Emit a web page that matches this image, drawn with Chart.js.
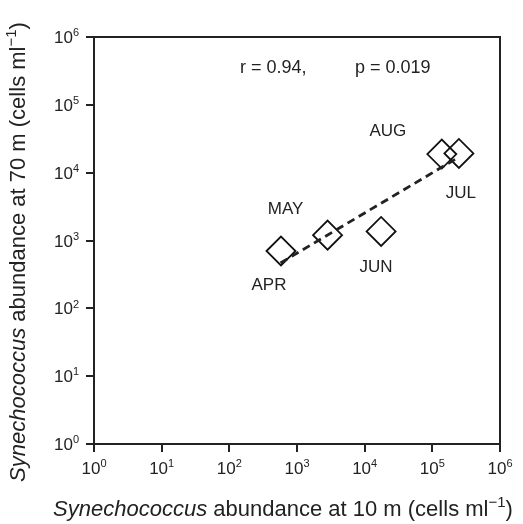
<!DOCTYPE html>
<html>
<head>
<meta charset="utf-8">
<script src="https://cdn.jsdelivr.net/npm/chart.js@4"></script>
<style>
  html, body { margin: 0; padding: 0; background: #fff; }
  canvas { display: block; }
</style>
</head>
<body>
<canvas id="chart" width="523" height="524"></canvas>
<script>
const months = ['APR', 'MAY', 'JUN', 'AUG', 'JUL'];
const cells10m = [580, 2830, 17500, 138000, 247000];
const cells70m = [700, 1200, 1360, 18800, 19200];
const fitX = [570, 235000];
const fitY = [466, 16500];
const tickVals = [1, 10, 100, 1e3, 1e4, 1e5, 1e6];
const statsText = ['r = 0.94,', 'p = 0.019'];

// pixel offsets of month labels from their diamonds
const labelOffsets = [[-12, 34], [-42, -26], [-5, 36], [-54, -23], [2, 40]];

const FONT = '"Liberation Sans", Arial, Helvetica, sans-serif';
const ctx = document.getElementById('chart').getContext('2d');

function drawRuns(c, runs, x, y, size) {
  // runs: [{t, it, sup}] drawn left to right from x at baseline y
  let cx = x;
  runs.forEach(r => {
    const fs = r.sup ? Math.round(size * 0.66) : size;
    c.font = (r.it ? 'italic ' : '') + fs + 'px ' + FONT;
    c.fillText(r.t, cx, r.sup ? y - size * 0.4 : y);
    cx += c.measureText(r.t).width;
  });
  return cx - x;
}

function runsWidth(c, runs, size) {
  let w = 0;
  runs.forEach(r => {
    const fs = r.sup ? Math.round(size * 0.66) : size;
    c.font = (r.it ? 'italic ' : '') + fs + 'px ' + FONT;
    w += c.measureText(r.t).width;
  });
  return w;
}

const decorations = {
  id: 'decorations',
  afterDraw(chart) {
    const c = chart.ctx;
    const a = chart.chartArea;
    const xs = chart.scales.x;
    const ys = chart.scales.y;
    c.save();
    c.fillStyle = '#222';
    c.strokeStyle = '#222';
    c.textAlign = 'left';
    c.textBaseline = 'alphabetic';

    // frame
    c.lineWidth = 2;
    c.strokeRect(a.left, a.top, a.right - a.left, a.bottom - a.top);

    // tick labels 10^n
    tickVals.forEach(v => {
      const exp = String(Math.round(Math.log10(v)));
      const runs = [{ t: '10' }, { t: exp, sup: true }];
      const w = runsWidth(c, runs, 17);
      const px = xs.getPixelForValue(v);
      drawRuns(c, runs, px - w / 2, a.bottom + 30, 17);
      const py = ys.getPixelForValue(v);
      drawRuns(c, runs, a.left - 15 - w, py + 6, 17);
    });

    // month labels
    c.font = '17px ' + FONT;
    c.textAlign = 'center';
    c.textBaseline = 'middle';
    months.forEach((m, i) => {
      const px = xs.getPixelForValue(cells10m[i]) + labelOffsets[i][0];
      const py = ys.getPixelForValue(cells70m[i]) + labelOffsets[i][1];
      c.fillText(m, px, py);
    });

    // stats
    c.textAlign = 'left';
    c.textBaseline = 'alphabetic';
    c.font = '18px ' + FONT;
    c.fillText(statsText[0], 240, 73);
    c.fillText(statsText[1], 355, 73);

    // axis titles
    const xRuns = [
      { t: 'Synechococcus', it: true },
      { t: ' abundance at 10 m (cells ml' },
      { t: '\u22121', sup: true },
      { t: ')' }
    ];
    const yRuns = [
      { t: 'Synechococcus', it: true },
      { t: ' abundance at 70 m (cells ml' },
      { t: '\u22121', sup: true },
      { t: ')' }
    ];
    const xw = runsWidth(c, xRuns, 22);
    drawRuns(c, xRuns, 283 - xw / 2, 516, 22);

    const yw = runsWidth(c, yRuns, 22);
    c.translate(25, 252);
    c.rotate(-Math.PI / 2);
    drawRuns(c, yRuns, -yw / 2, 0, 22);
    c.restore();
  }
};

function logAxis() {
  return {
    type: 'logarithmic',
    min: 1,
    max: 1e6,
    afterBuildTicks: s => { s.ticks = tickVals.map(v => ({ value: v })); },
    ticks: { display: false },
    grid: {
      display: true,
      drawOnChartArea: false,
      drawTicks: true,
      tickLength: 8,
      color: '#222',
      lineWidth: 2
    },
    border: { display: true, color: '#222', width: 2 }
  };
}

new Chart(ctx, {
  type: 'scatter',
  data: {
    datasets: [
      {
        label: 'fit',
        type: 'line',
        data: fitX.map((x, i) => ({ x, y: fitY[i] })),
        borderColor: '#222',
        borderWidth: 2.8,
        borderDash: [8, 5],
        pointRadius: 0,
        fill: false
      },
      {
        label: 'months',
        data: cells10m.map((x, i) => ({ x, y: cells70m[i] })),
        pointStyle: 'rectRot',
        pointRadius: 14.5,
        pointBorderWidth: 1.8,
        pointBorderColor: '#111',
        pointBackgroundColor: 'rgba(0,0,0,0)'
      }
    ]
  },
  options: {
    responsive: false,
    animation: false,
    devicePixelRatio: 1,
    layout: { padding: { left: 86, right: 23, top: 37, bottom: 72 } },
    plugins: { legend: { display: false }, tooltip: { enabled: false } },
    scales: { x: logAxis(), y: logAxis() }
  },
  plugins: [decorations]
});
</script>
</body>
</html>
